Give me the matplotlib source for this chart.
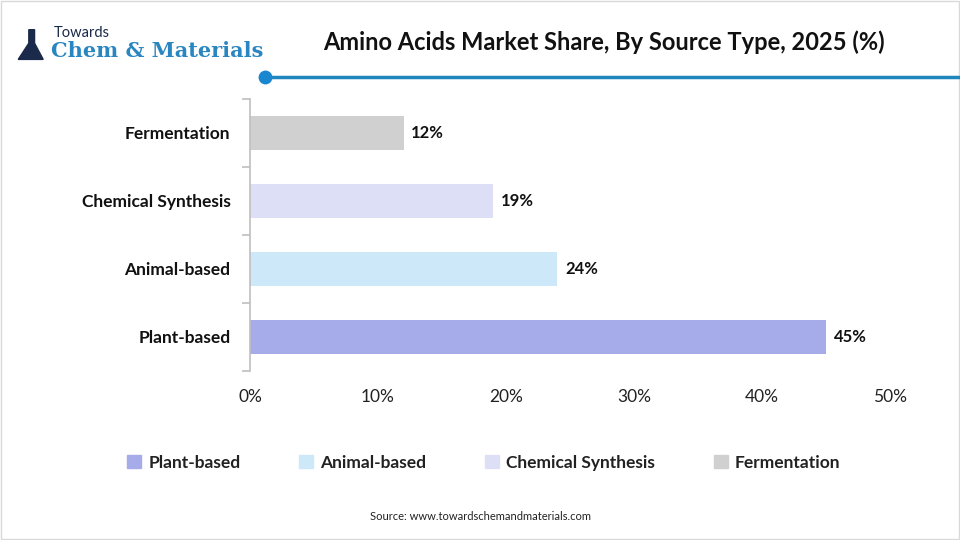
import matplotlib.pyplot as plt
from matplotlib.patches import Rectangle, Polygon
from matplotlib.lines import Line2D

plt.rcParams['font.family'] = ['Lato', 'DejaVu Sans']

categories = ['Plant-based', 'Animal-based', 'Chemical Synthesis', 'Fermentation']
shares = [45, 24, 19, 12]
colors = ['#A6ACEA', '#CCE8F9', '#DCDFF5', '#D0D0D0']
xticks = [0, 10, 20, 30, 40, 50]

fig = plt.figure(figsize=(9.6, 5.4), dpi=100)
ax = fig.add_axes([0.2604, 0.313, 0.6667, 0.5037])

ypos = list(range(len(categories)))
ax.barh(ypos, shares, height=0.5, color=colors)
for y, v in zip(ypos, shares):
    ax.text(v + 0.6, y, f'{v}%', va='center', ha='left', fontsize=12,
            fontweight='bold', color='#111111')

ax.set_xlim(0, 50)
ax.set_ylim(-0.5, 3.5)
ax.set_yticks(ypos)
ax.set_yticklabels(categories, fontsize=12.5, fontweight='bold', color='#111111')
ax.set_yticks([-0.5, 0.5, 1.5, 2.5, 3.5], minor=True)
ax.tick_params(axis='y', which='major', length=0, pad=14)
ax.tick_params(axis='y', which='minor', length=6, color='#BFBFBF', width=1.2)
ax.set_xticks(xticks)
ax.set_xticklabels([f'{t}%' for t in xticks], fontsize=12.5, color='#222222')
ax.tick_params(axis='x', length=0, pad=13)
for s in ['top', 'right', 'bottom']:
    ax.spines[s].set_visible(False)
ax.spines['left'].set_color('#BFBFBF')
ax.spines['left'].set_linewidth(1.2)

# title
fig.text(0.629, 0.922, 'Amino Acids Market Share, By Source Type, 2025 (%)',
         ha='center', va='center', fontsize=17, fontweight='bold', color='#111111')

# header line with dot
fig.add_artist(Line2D([0.276, 1.0], [0.857, 0.857], color='#1F86BE', lw=2.5))
fig.add_artist(Line2D([0.276], [0.857], marker='o', markersize=10,
                      color='#1A86D0', markeredgewidth=0))

# logo
fig.text(0.056, 0.939, 'Towards', fontsize=10.5, color='#1B2A4A', va='center')
fig.text(0.053, 0.905, 'Chem & Materials', fontsize=15, fontweight='bold',
         color='#2A86C0', va='center', family=['DejaVu Serif'])
fig.add_artist(Polygon([[0.030, 0.945], [0.036, 0.945], [0.036, 0.92],
                        [0.045, 0.89], [0.019, 0.89], [0.030, 0.92]],
                       closed=True, color='#1B2A4A'))

# legend
handles = [Rectangle((0, 0), 1, 1, color=c) for c in colors]
leg = fig.legend(handles, categories, loc='center', bbox_to_anchor=(0.504, 0.143),
                 ncol=4, frameon=False, fontsize=12.5, handlelength=0.8,
                 handleheight=0.8, columnspacing=3.4, handletextpad=0.4)
for t in leg.get_texts():
    t.set_fontweight('bold')
    t.set_color('#222222')

fig.text(0.5, 0.044, 'Source: www.towardschemandmaterials.com', ha='center',
         va='center', fontsize=8, color='#222222')

fig.add_artist(Rectangle((0.001, 0.002), 0.998, 0.996, fill=False,
                         edgecolor='#D9D9D9', lw=1))

fig.savefig('out.png', dpi=100)
